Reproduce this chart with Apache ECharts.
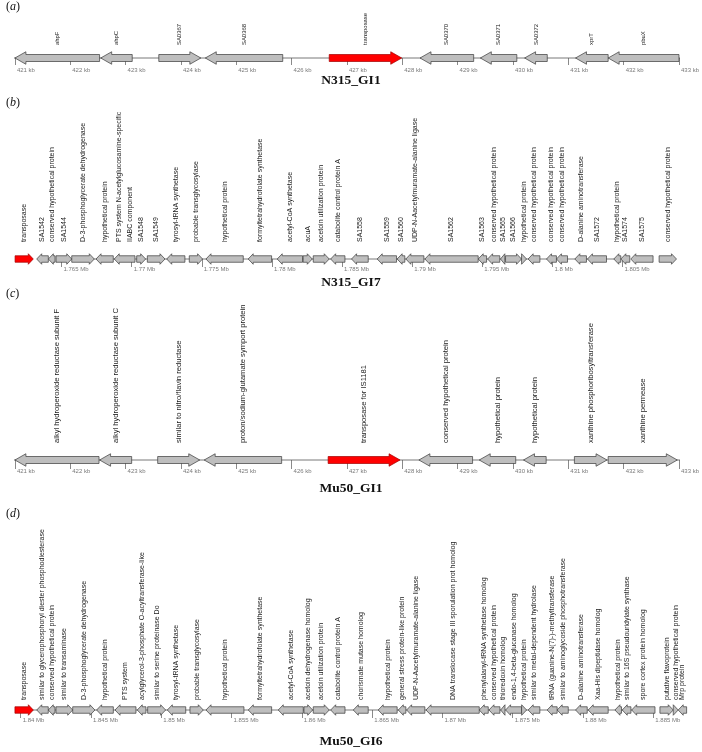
<!DOCTYPE html>
<html>
<head>
<meta charset="utf-8">
<script src="https://cdn.jsdelivr.net/npm/echarts@6/dist/echarts.min.js"></script>
<style>html,body{margin:0;padding:0;background:#fff}#c{width:702px;height:752px}</style>
</head>
<body>
<div id="c"></div>
<script>
// ---------- DATA ----------
const panelLetters = ['a', 'b', 'c', 'd'];
const panelTitles = ['N315_GI1', 'N315_GI7', 'Mu50_GI1', 'Mu50_GI6'];

const ticksKb = [421, 422, 423, 424, 425, 426, 427, 428, 429, 430, 431, 432, 433];
const ticksB = [1765, 1770, 1775, 1780, 1785, 1790, 1795, 1800, 1805];
const ticksD = [1840, 1845, 1850, 1855, 1860, 1865, 1870, 1875, 1880, 1885];

// panel (a) N315_GI1 (kb)
const namesA = ['ahpF', 'ahpC', 'SA0367', 'SA0368', 'transposase', 'SA0370', 'SA0371', 'SA0372', 'xprT', 'pbuX'];
const startA = [421.00, 422.55, 423.60, 424.44, 426.68, 428.32, 429.41, 430.21, 431.13, 431.72];
const endA   = [422.53, 423.12, 424.36, 425.84, 427.99, 429.29, 430.07, 430.62, 431.72, 433.00];
const strandA = [-1, -1, 1, -1, 1, -1, -1, -1, -1, -1];
const kindA   = [0, 0, 0, 0, 1, 0, 0, 0, 0, 0];
const backboneA = [420.76, 433.38];

// panel (b) N315_GI7 (kb)
const namesB = ['transposase', 'SA1542', 'conserved hypothetical protein', 'SA1544',
  'D-3-phosphoglycerate dehydrogenase', 'hypothetical protein',
  'PTS system N-acetylglucosamine-specific\nIIABC component', 'SA1548', 'SA1549',
  'tyrosyl-tRNA synthetase', 'probable transglycosylase', 'hypothetical protein',
  'formyltetrahydrofolate synthetase', 'acetyl-CoA synthetase', 'acuA', 'acetoin utilization protein',
  'catabolite control protein A', 'SA1558', 'SA1559', 'SA1560', 'UDP-N-Aacetylmuramate-alanine ligase',
  'SA1562', 'SA1563', 'conserved hypothetical protein', 'SA1565', 'SA1566', 'hypothetical protein',
  'conserved hypothetical protein', 'conserved hypothetical protein', 'conserved hypothetical protein',
  'D-alanine aminotransferase', 'SA1572', 'hypothetical protein', 'SA1574', 'SA1575',
  'conserved hypothetical protein'];
const startB = [1761.69, 1763.23, 1764.06, 1764.61, 1765.73, 1767.46, 1768.76, 1770.36, 1771.12,
  1772.50, 1774.11, 1775.30, 1778.31, 1780.38, 1782.23, 1782.95, 1784.19, 1785.68, 1787.51, 1788.93,
  1789.55, 1790.91, 1794.71, 1795.38, 1796.30, 1796.66, 1797.80, 1798.27, 1799.58, 1800.29, 1801.60,
  1802.50, 1804.38, 1804.88, 1805.59, 1807.61];
const endB = [1762.99, 1764.06, 1764.54, 1765.73, 1767.34, 1768.69, 1770.24, 1771.00, 1772.38,
  1773.80, 1775.06, 1777.96, 1779.98, 1782.19, 1782.88, 1784.09, 1785.21, 1786.87, 1788.89, 1789.48,
  1790.84, 1794.71, 1795.31, 1796.25, 1796.61, 1797.80, 1798.16, 1799.11, 1800.29, 1801.08, 1802.43,
  1803.86, 1804.88, 1805.52, 1807.18, 1808.85];
const strandB = [1, -1, -1, 1, 1, -1, -1, 1, 1, -1, 1, -1, -1, -1, 1, 1, -1, -1, -1, -1, -1, -1, -1, -1,
  -1, 1, 1, -1, -1, -1, -1, -1, -1, -1, -1, 1];
const kindB = [1, 0, 0, 0, 0, 0, 0, 0, 0, 0, 0, 0, 0, 0, 0, 0, 0, 0, 0, 0, 0, 0, 0, 0, 0, 0, 0, 0, 0, 0, 0, 0, 0, 0, 0, 0];
const backboneB = [1760.76, 1809.81];

// panel (c) Mu50_GI1 (kb)
const namesC = ['alkyl hydroperoxide reductase subunit F', 'alkyl hydroperoxide reductase subunit C',
  'similar to nitro/flavin reductase', 'proton/sodium-glutamate symport protein', 'transposase for IS1181',
  'conserved hypothetical protein', 'hypothetical protein', 'hypothetical protein',
  'xanthine phosphoribosyltransferase', 'xanthine permease'];
const startC = [421.00, 422.53, 423.58, 424.42, 426.66, 428.30, 429.39, 430.19, 431.11, 431.72];
const endC   = [422.52, 423.11, 424.34, 425.82, 427.96, 429.27, 430.05, 430.60, 431.70, 432.97];
const strandC = [-1, -1, 1, -1, 1, -1, -1, -1, 1, 1];
const kindC   = [0, 0, 0, 0, 1, 0, 0, 0, 0, 0];
const backboneC = [420.76, 433.38];

// panel (d) Mu50_GI6 (kb)
const namesD = ['transposase', 'similar to glycerophosphoryl diester phosphodiesterase',
  'conserved hypothetical protein', 'similar to transaminase', 'D-3-phosphoglycerate dehydrogenase',
  'hypothetical protein', 'PTS system', 'acylglycerol-3-phosphate O-acyltransferase-like',
  'similar to serine proteinase Do', 'tyrosyl-tRNA synthetase', 'probable transglycosylase',
  'hypothetical protein', 'formyltetrahydrofolate synthetase', 'acetyl-CoA synthetase',
  'acetoin dehydrogenase homolog', 'acetoin utilization protein', 'catabolite control protein A',
  'chorismate mutase homolog', 'hypothetical protein', 'general stress protein-like protein',
  'UDP-N-Aacetylmuramate-alanine ligase', 'DNA translocase stage III sporulation prot homolog',
  'phenylalanyl-tRNA synthetase homolog', 'conserved hypothetical protein', 'thioredoxin homolog',
  'endo-1,4-beta-glucanase homolog', 'hypothetical protein', 'similar to metal-dependent hydrolase',
  'tRNA (guanine-N(7)-)-methyltransferase', 'similar to aminoglycoside phosphotransferase',
  'D-alanine aminotransferase', 'Xaa-His dipeptidase homolog', 'hypothetical protein',
  'similar to 16S pseudouridylate synthase', 'spore cortex protein homolog', 'putative flavoprotein',
  'conserved hypothetical protein', 'Mrp protein'];
const startD = [1839.59, 1841.14, 1841.96, 1842.51, 1843.70, 1845.40, 1846.71, 1848.29, 1849.03,
  1850.43, 1852.04, 1853.18, 1856.19, 1858.32, 1860.15, 1860.81, 1862.05, 1863.66, 1865.43, 1866.86,
  1867.45, 1868.83, 1872.62, 1873.31, 1874.14, 1874.49, 1875.63, 1876.10, 1877.45, 1878.16, 1879.47,
  1880.37, 1882.27, 1882.79, 1883.46, 1885.47, 1886.42, 1886.77];
const endD = [1840.90, 1841.96, 1842.44, 1843.70, 1845.28, 1846.59, 1848.20, 1848.91, 1850.31,
  1851.74, 1852.99, 1855.88, 1857.85, 1860.10, 1860.77, 1861.95, 1863.07, 1864.72, 1866.78, 1867.40,
  1868.75, 1872.62, 1873.26, 1874.09, 1874.45, 1875.63, 1875.99, 1876.93, 1878.16, 1878.95, 1880.30,
  1881.79, 1882.74, 1883.41, 1885.12, 1886.42, 1886.77, 1887.37];
const strandD = [1, -1, -1, 1, 1, -1, -1, -1, 1, -1, 1, -1, -1, -1, 1, 1, -1, -1, -1, -1, -1, -1, -1, -1,
  -1, -1, 1, -1, -1, -1, -1, -1, -1, -1, -1, 1, 1, -1];
const kindD = [1, 0, 0, 0, 0, 0, 0, 0, 0, 0, 0, 0, 0, 0, 0, 0, 0, 0, 0, 0, 0, 0, 0, 0, 0, 0, 0, 0, 0, 0, 0, 0, 0, 0, 0, 0, 0, 0];
const backboneD = [1838.67, 1888.31];

// ---------- LAYOUT ----------
const panels = [
  { names: namesA, start: startA, end: endA, strand: strandA, kind: kindA, ticks: ticksKb, backbone: backboneA, unit: 'kb',
    arrowY: 58, left: 14.9, right: 21, bodyH: 7, headH: 12.5, headLen: 11, labelGap: 13, fontSize: 5.9,
    tickTop: 7, tickLen: 7, labelOff: 5, letterY: 8, titleY: 81 },
  { names: namesB, start: startB, end: endB, strand: strandB, kind: kindB, ticks: ticksB, backbone: backboneB, unit: 'Mb',
    arrowY: 259, left: 61.5, right: 79.5, bodyH: 6.5, headH: 10.5, headLen: 5, labelGap: 17, fontSize: 7.0,
    tickTop: 5, tickLen: 8, labelOff: 5, letterY: 104, titleY: 283 },
  { names: namesC, start: startC, end: endC, strand: strandC, kind: kindC, ticks: ticksKb, backbone: backboneC, unit: 'kb',
    arrowY: 460, left: 14.9, right: 21, bodyH: 7, headH: 12.5, headLen: 11, labelGap: 17, fontSize: 7.6,
    tickTop: 6, tickLen: 9, labelOff: 5, letterY: 295, titleY: 489 },
  { names: namesD, start: startD, end: endD, strand: strandD, kind: kindD, ticks: ticksD, backbone: backboneD, unit: 'Mb',
    arrowY: 710, left: 20.7, right: 48.7, bodyH: 6.5, headH: 10.5, headLen: 5, labelGap: 10, fontSize: 7,
    tickTop: 6, tickLen: 8, labelOff: 4, letterY: 515, titleY: 742 }
];

const chart = echarts.init(document.getElementById('c'), null, { renderer: 'canvas' });
const grid = [], xAxis = [], yAxis = [], series = [], graphic = [];

panels.forEach((P, i) => {
  grid.push({ left: P.left, right: P.right, top: P.arrowY - P.tickTop, height: 2 * P.tickTop });
  const fmt = P.unit === 'kb' ? (v => v + ' kb') : (v => parseFloat((v / 1000).toFixed(3)) + ' Mb');
  xAxis.push({
    type: 'value', gridIndex: i, min: P.ticks[0], max: P.ticks[P.ticks.length - 1], position: 'bottom',
    axisLine: { show: false }, splitLine: { show: false },
    axisTick: { show: true, customValues: P.ticks, length: P.tickLen, lineStyle: { color: '#8a8a8a', width: 1 } },
    axisLabel: { show: true, customValues: P.ticks, formatter: fmt, fontSize: 6, color: '#7a7a7a',
      fontFamily: 'Liberation Sans, Arial, sans-serif', align: 'left', verticalAlign: 'middle', margin: P.labelOff, padding: [0, 0, 0, 2] }
  });
  yAxis.push({ type: 'value', gridIndex: i, min: -1, max: 1, show: false });
  series.push({
    type: 'line', xAxisIndex: i, yAxisIndex: i, clip: false, symbol: 'none', silent: true, z: 1,
    data: [[P.backbone[0], 0], [P.backbone[1], 0]], lineStyle: { color: '#555', width: 0.8 }
  });
  series.push({
    type: 'custom', xAxisIndex: i, yAxisIndex: i, clip: false, z: 2,
    encode: { x: [0, 1], y: 4 },
    data: P.start.map((s, j) => [s, P.end[j], P.strand[j], P.kind[j], 0]),
    renderItem: function (params, api) {
      const s = api.value(0), e = api.value(1), dir = api.value(2), k = api.value(3);
      const p1 = api.coord([s, 0]), p2 = api.coord([e, 0]);
      const y = p1[1], x1 = p1[0], x2 = p2[0];
      const hl = Math.min(P.headLen, x2 - x1);
      const bh = P.bodyH / 2, hh = P.headH / 2;
      let pts;
      if (dir > 0) pts = [[x1, y - bh], [x2 - hl, y - bh], [x2 - hl, y - hh], [x2, y], [x2 - hl, y + hh], [x2 - hl, y + bh], [x1, y + bh]];
      else pts = [[x2, y - bh], [x1 + hl, y - bh], [x1 + hl, y - hh], [x1, y], [x1 + hl, y + hh], [x1 + hl, y + bh], [x2, y + bh]];
      return {
        type: 'group', children: [
          { type: 'polygon', shape: { points: pts },
            style: { fill: k ? '#ff0000' : '#bebebe', stroke: k ? '#a00000' : '#3a3a3a', lineWidth: 0.7 } },
          { type: 'text', x: (x1 + x2) / 2, y: y - P.labelGap, rotation: Math.PI / 2,
            style: { text: P.names[params.dataIndex], fontSize: P.fontSize, fontFamily: 'Liberation Sans, Arial, sans-serif',
              fill: '#1a1a1a', align: 'left', verticalAlign: 'middle', lineHeight: 10.5 } }
        ]
      };
    }
  });
  graphic.push({
    type: 'text', left: 6, top: P.letterY - 7,
    style: { text: '{n|(}{i|' + panelLetters[i] + '}{n|)}',
      rich: { n: { fontFamily: 'Liberation Serif, Times New Roman, serif', fontSize: 12, fill: '#111' },
              i: { fontFamily: 'Liberation Serif, Times New Roman, serif', fontSize: 12, fontStyle: 'italic', fill: '#111' } } }
  });
  graphic.push({
    type: 'text', x: 351, y: P.titleY,
    style: { text: panelTitles[i], fontFamily: 'Liberation Serif, Times New Roman, serif', fontWeight: 'bold',
      fontSize: 13.5, fill: '#111', align: 'center', verticalAlign: 'middle' }
  });
});

chart.setOption({ animation: false, backgroundColor: '#fff', grid, xAxis, yAxis, series, graphic });
</script>
</body>
</html>
